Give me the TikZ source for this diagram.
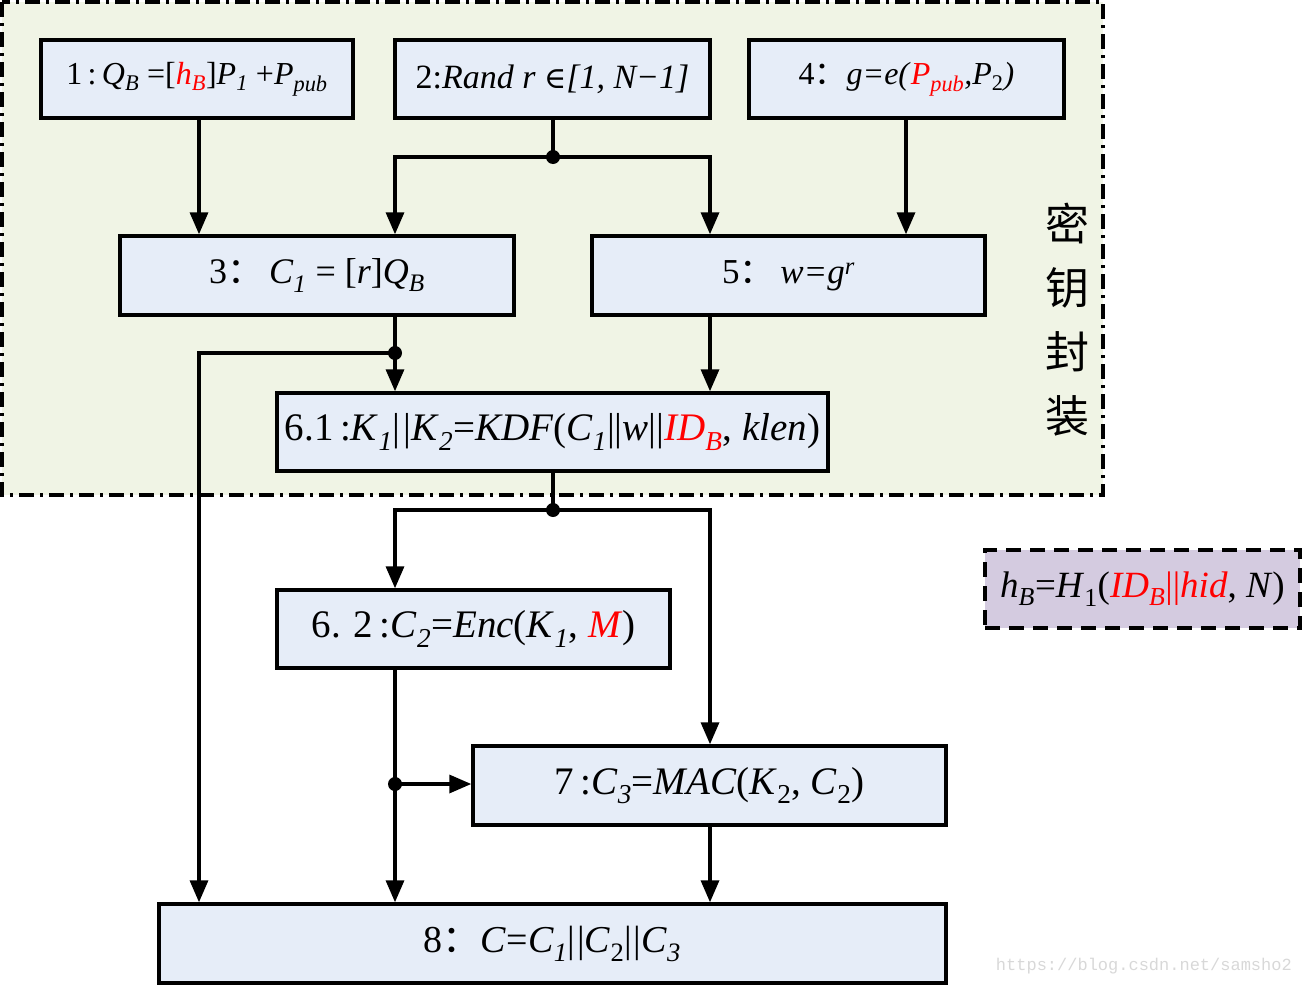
\documentclass[tikz,border=0pt]{standalone}
\usepackage{fontspec}
\setmainfont{Liberation Serif}
\setmonofont{Liberation Mono}
\newfontfamily\cjk{Noto Sans CJK SC}
\newfontfamily\dvs{DejaVu Serif}
\usetikzlibrary{arrows.meta}
\definecolor{regfill}{HTML}{F0F4E5}
\definecolor{boxfill}{HTML}{E6EDF8}
\definecolor{hbfill}{HTML}{D4CBE0}
\definecolor{wmgray}{HTML}{D8D8D8}
\newcommand\isub[1]{\textsubscript{\textit{#1}}}
\newcommand\usub[1]{\textsubscript{#1}}
\newcommand\cc{{\cjk ：}}
\newcommand\fs[1]{\fontsize{#1}{#1}\selectfont}
\begin{document}
\begin{tikzpicture}[x=1pt,y=-1pt,
  stepbox/.style={draw=black,line width=3.4pt,fill=boxfill,inner sep=0pt,
    minimum height=78pt,font=\fs{39}},
  conn/.style={line width=3.4pt},
  arr/.style={line width=3.4pt,-{Triangle[length=22pt,width=18pt]}},
  jdot/.style={circle,fill=black,inner sep=0pt,minimum size=14pt}]
\useasboundingbox (0,0) rectangle (1302,985);
% region
\draw[line width=3.6pt,fill=regfill,dash pattern=on 15pt off 6pt on 3pt off 6pt] (2,2) rectangle (1103,495);
\node[font=\cjk\fontsize{44}{64}\selectfont,align=center,inner sep=0pt] (lbl) at (1067,320) {密\\钥\\封\\装};
% columns
\coordinate (cA) at (199,0);
\coordinate (cB) at (395,0);
\coordinate (cC) at (553,0);
\coordinate (cD) at (710,0);
\coordinate (cE) at (906,0);
% boxes
\node[stepbox,minimum width=312pt,font=\fs{32}] (b1) at (197,79) {1\,:\,\textit{Q}\isub{B} =[{\color{red}\textit{h}\isub{B}}]\textit{P}\isub{1} +\textit{P}\isub{pub}};
\node[stepbox,minimum width=315pt,font=\fs{34}] (b2) at (552.5,79) {2:\textit{Rand r} {\dvs\fs{30}∈}\textit{[1, N−1]}};
\node[stepbox,minimum width=315pt,font=\fs{32}] (b4) at (906.5,79) {4\cc\textit{g=e(}{\color{red}\textit{P}\isub{pub}}\textit{,P}\usub{2}\textit{)}};
\node[stepbox,minimum width=394pt,minimum height=79pt,font=\fs{36}] (b3) at (317,275.5) {3\cc\,\textit{C}\isub{1} = [\textit{r}]\textit{Q}\isub{B}};
\node[stepbox,minimum width=393pt,minimum height=79pt,font=\fs{35}] (b5) at (788.5,275.5) {5\cc\,\textit{w=g}\textsuperscript{\textit{r}}};
\node[stepbox,minimum width=551pt] (b61) at (552.5,432) {6.1\,:\textit{K}\isub{1}|\kern3pt|\textit{K}\isub{2}=\textit{KDF}(\textit{C}\isub{1}||\textit{w}||{\color{red}\textit{ID}\isub{B}}, \textit{klen})};
\node[stepbox,minimum width=393pt] (b62) at (473.5,629) {6. 2\,:\textit{C}\isub{2}=\textit{Enc}(\textit{K}\isub{1}, {\color{red}\textit{M}})};
\node[stepbox,minimum width=473pt,minimum height=79pt] (b7) at (709.5,785.5) {7\,:\textit{C}\isub{3}=\textit{MAC}(\textit{K}\usub{2}, \textit{C}\usub{2})};
\node[stepbox,minimum width=787pt,minimum height=79pt,font=\fs{38}] (b8) at (552.5,943.5) {8\cc\textit{C}=\textit{C}\isub{1}|\kern2pt|\textit{C}\usub{2}|\kern2pt|\textit{C}\isub{3}};
\node[stepbox,fill=hbfill,dash pattern=on 15pt off 9pt,minimum width=315pt,font=\fs{37}] (hb) at (1142.5,589) {\textit{h}\isub{B}=\textit{H}\usub{1}({\color{red}\textit{ID}\isub{B}||\textit{hid}}, \textit{N})};
% junctions
\coordinate (j1) at (553,157);
\coordinate (j2) at (395,353);
\coordinate (j3) at (553,510);
\coordinate (j4) at (395,784);
% connectors
\draw[arr] (b1.south -| cA) -- (b3.north -| cA);
\draw[conn] (b2.south -| cC) -- (j1);
\draw[arr] (j1) -| (b3.north -| cB);
\draw[arr] (j1) -| (b5.north -| cD);
\draw[arr] (b4.south -| cE) -- (b5.north -| cE);
\draw[arr] (b3.south -| cB) -- (b61.north -| cB);
\draw[arr] (j2) -| (b8.north -| cA);
\draw[arr] (b5.south -| cD) -- (b61.north -| cD);
\draw[conn] (b61.south -| cC) -- (j3);
\draw[arr] (j3) -| (b62.north -| cB);
\draw[arr] (j3) -| (b7.north -| cD);
\draw[arr] (b62.south -| cB) -- (b8.north -| cB);
\draw[arr] (j4) -- (b7.west |- j4);
\draw[arr] (b7.south -| cD) -- (b8.north -| cD);
\node[jdot] at (j1) {};
\node[jdot] at (j2) {};
\node[jdot] at (j3) {};
\node[jdot] at (j4) {};
% watermark
\node[font=\ttfamily\fontsize{17}{20}\selectfont,text=wmgray,anchor=east,inner sep=0pt] (wm) at (1292,966) {https://blog.csdn.net/samsho2};
\end{tikzpicture}
\end{document}
